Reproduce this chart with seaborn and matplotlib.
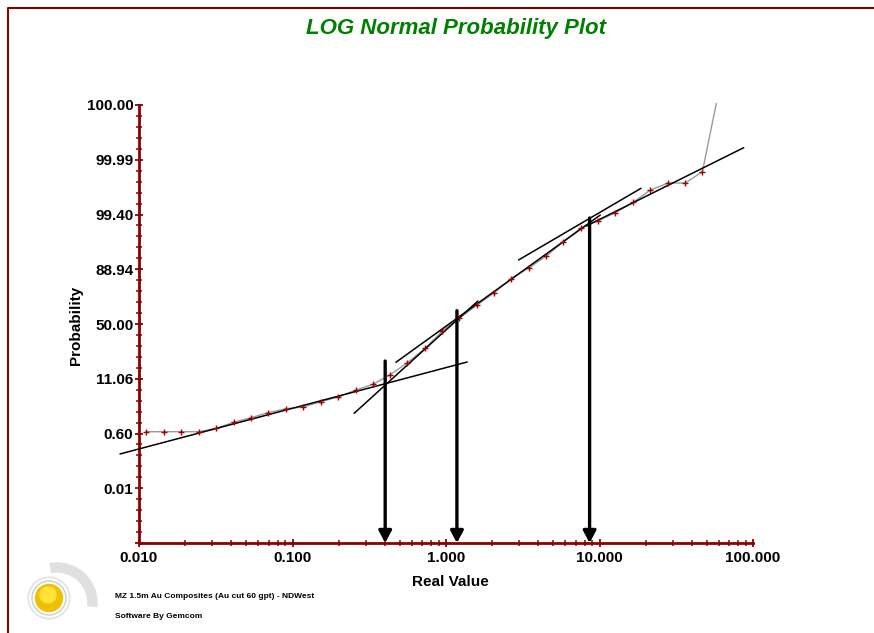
import numpy as np
import pandas as pd
import matplotlib
matplotlib.use("Agg")
import matplotlib.pyplot as plt
import seaborn as sns
from matplotlib.ticker import FixedLocator, MultipleLocator, LogLocator, NullFormatter
from matplotlib.patches import Circle, Wedge
from matplotlib.lines import Line2D

# ---------------- data (y in probability-scale units: 0 = 50 %, one unit per labelled tick) ----
real_value = [0.0111, 0.01456, 0.01879, 0.0246, 0.0318, 0.0416, 0.0537, 0.0693, 0.0908,
              0.1172, 0.1534, 0.198, 0.260, 0.335, 0.433, 0.559, 0.731, 0.944, 1.219,
              1.597, 2.062, 2.661, 3.486, 4.50, 5.81, 7.61, 9.82, 12.68, 16.60, 21.43,
              28.09, 36.25, 46.8, 57.7]
prob_scale = [-1.967, -1.967, -1.967, -1.967, -1.905, -1.795, -1.711, -1.620, -1.547,
              -1.516, -1.419, -1.333, -1.205, -1.100, -0.926, -0.710, -0.444, -0.128, 0.104,
              0.347, 0.572, 0.830, 1.028, 1.242, 1.503, 1.759, 1.887, 2.033, 2.223, 2.447,
              2.575, 2.575, 2.782, 4.03]

# fitted straight segments: (x0, y0, x1, y1)
fit_lines = [
    (0.00752, -2.374, 1.374, -0.694),
    (0.2521, -1.631, 1.614, 0.420),
    (0.4715, -0.700, 10.12, 1.991),
    (2.969, 1.169, 18.65, 2.479),
    (8.20, 1.790, 86.99, 3.220),
]

# inflection arrows: x position and top of shaft
arrow_x = [0.4016, 1.178, 8.62]
arrow_top = [-0.676, 0.243, 1.936]

y_tick_pos = [-4, -3, -2, -1, 0, 1, 2, 3, 4]
y_tick_labels = ["", "0.01", "0.60", "11.06", "50.00", "88.94", "99.40", "99.99", "100.00"]
x_tick_pos = [0.01, 0.1, 1, 10, 100]
x_tick_labels = ["0.010", "0.100", "1.000", "10.000", "100.000"]

title = "LOG Normal Probability Plot"
footer1 = "MZ 1.5m Au Composites (Au cut 60 gpt) - NDWest"
footer2 = "Software By Gemcom"

# ---------------- style ----------------
sns.set_style("ticks")
plt.rcParams["font.family"] = ["Liberation Sans", "DejaVu Sans"]
plt.rcParams["text.color"] = "black"
plt.rcParams["xtick.color"] = "black"
plt.rcParams["ytick.color"] = "black"

W, H = 874, 633
fig = plt.figure(figsize=(W / 100, H / 100), dpi=100)

# logo layer (pixel coordinates, behind everything)
lax = fig.add_axes([0, 0, 1, 1])
lax.set_xlim(0, W)
lax.set_ylim(H, 0)
lax.axis("off")
cx, cy = 49, 598
lax.add_patch(Wedge((57, 603), 40, -100, 5, width=9, color="#e0e0e0"))
lax.add_patch(Circle((cx, cy), 21, color="#e6e6e6"))
lax.add_patch(Circle((cx, cy), 19, color="white"))
lax.add_patch(Circle((cx, cy), 17, fill=False, ec="#cdcdcd", lw=1))
lax.add_patch(Circle((cx, cy), 13.5, color="#f0c000"))
lax.add_patch(Circle((cx - 1, cy - 3), 8, color="#ffe23a"))

ax = fig.add_axes([139 / W, 1 - 543 / H, (753 - 139) / W, (543 - 105) / H])
ax.patch.set_alpha(0)

dred = "#8B0000"
df = pd.DataFrame({"x": real_value, "y": prob_scale})

sns.lineplot(data=df, x="x", y="y", sort=False, color="#9a9a9a", lw=1.0, ax=ax,
             estimator=None, clip_on=False, zorder=2)
sns.scatterplot(data=df.iloc[:-1], x="x", y="y", marker="+", s=20, color="#A00000",
                linewidth=1.0, ax=ax, zorder=4, clip_on=False)

for (x0, y0, x1, y1) in fit_lines:
    ax.plot([x0, x1], [y0, y1], color="black", lw=1.1, clip_on=False, zorder=3)

for xa, ta in zip(arrow_x, arrow_top):
    ax.annotate("", xy=(xa, -4), xytext=(xa, ta),
                arrowprops=dict(arrowstyle="-|>,head_length=0.6,head_width=0.32",
                                lw=2.4, color="black", shrinkA=0, shrinkB=0,
                                mutation_scale=12),
                annotation_clip=False, zorder=5)

ax.set_xscale("log")
ax.set_xlim(0.01, 100)
ax.set_ylim(-4, 4)
ax.xaxis.set_major_locator(FixedLocator(x_tick_pos))
ax.set_xticklabels(x_tick_labels)
ax.xaxis.set_minor_locator(LogLocator(base=10, subs=np.arange(2, 10)))
ax.xaxis.set_minor_formatter(NullFormatter())
ax.yaxis.set_major_locator(FixedLocator(y_tick_pos))
ax.set_yticklabels(y_tick_labels)
ax.yaxis.set_minor_locator(MultipleLocator(0.2))
ax.set_xlabel("")
ax.set_ylabel("")

for s in ["top", "right"]:
    ax.spines[s].set_visible(False)
for s in ["left", "bottom"]:
    ax.spines[s].set_color(dred)
    ax.spines[s].set_linewidth(2)

ax.tick_params(axis="both", which="major", direction="inout", length=6, width=1.3,
               color=dred, labelcolor="black", labelsize=11, pad=3,
               bottom=True, left=True)
ax.tick_params(axis="both", which="minor", direction="inout", length=4.5, width=1.1,
               color=dred, bottom=True, left=True)
ax.tick_params(axis="y", which="major", pad=1)
for lab in ax.get_xticklabels() + ax.get_yticklabels():
    lab.set_fontweight("bold")
    lab.set_color("black")

# texts
fig.text(456 / W, 1 - 28.5 / H, title, color="#008000", fontsize=16, fontweight="bold",
         fontstyle="italic", ha="center", va="center")
fig.text(450 / W, 1 - 582 / H, "Real Value", fontsize=11, fontweight="bold",
         ha="center", va="center", color="black")
fig.text(76 / W, 1 - 325 / H, "Probability", fontsize=11, fontweight="bold",
         ha="center", va="center", rotation=90, color="black")
fig.text(115 / W, 1 - 597 / H, footer1, fontsize=6, fontweight="bold", ha="left",
         va="center", color="black")
fig.text(115 / W, 1 - 617 / H, footer2, fontsize=6, fontweight="bold", ha="left",
         va="center", color="black")

# border of frame
fig.add_artist(Line2D([8 / W, 8 / W, 1.0], [0.0, 1 - 8 / H, 1 - 8 / H],
                      transform=fig.transFigure, color=dred, lw=1.5))

fig.savefig("out.png", dpi=100)
